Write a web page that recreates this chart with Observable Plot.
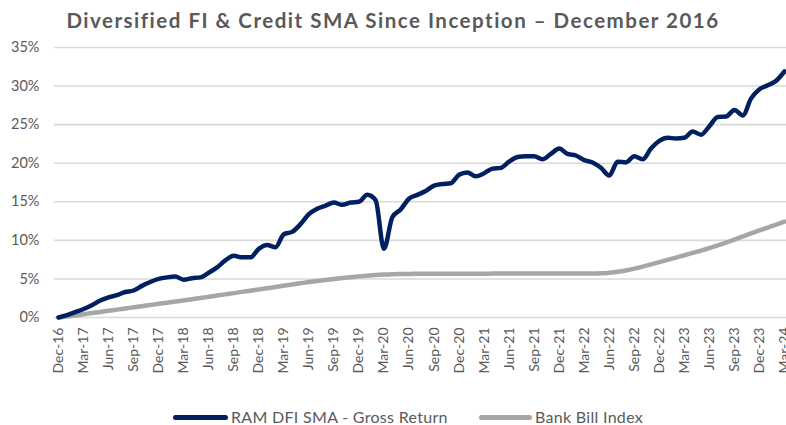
<!DOCTYPE html>
<html><head><meta charset="utf-8">
<script src="https://cdn.jsdelivr.net/npm/d3@7"></script>
<script src="https://cdn.jsdelivr.net/npm/@observablehq/plot@0.6"></script>
<style>
body{margin:0;background:#fff;font-family:Lato,sans-serif;color:#595959;width:786px;height:425px;overflow:hidden;position:relative}
#title{height:34px;line-height:40px;text-align:center;font-size:20.5px;font-weight:700;letter-spacing:1.5px;color:#595959;white-space:nowrap}
#chart svg{display:block}
.lg{position:absolute;top:408px;font-size:16px;line-height:17px;letter-spacing:0.3px;color:#595959;white-space:nowrap}
.sw{position:absolute;height:5px;border-radius:3px;top:415px}
</style></head><body>
<div id="title">Diversified FI &amp; Credit SMA Since Inception – December 2016</div>
<div id="chart"></div>
<div class="sw" style="left:173px;width:55px;background:#002060"></div>
<div class="lg" style="left:231px">RAM DFI SMA - Gross Return</div>
<div class="sw" style="left:479px;width:53px;background:#a6a6a6"></div>
<div class="lg" style="left:535px">Bank Bill Index</div>
<script>
const months = ["Dec-16",
"Jan-17","Feb-17","Mar-17","Apr-17","May-17","Jun-17","Jul-17","Aug-17","Sep-17","Oct-17","Nov-17","Dec-17",
"Jan-18","Feb-18","Mar-18","Apr-18","May-18","Jun-18","Jul-18","Aug-18","Sep-18","Oct-18","Nov-18","Dec-18",
"Jan-19","Feb-19","Mar-19","Apr-19","May-19","Jun-19","Jul-19","Aug-19","Sep-19","Oct-19","Nov-19","Dec-19",
"Jan-20","Feb-20","Mar-20","Apr-20","May-20","Jun-20","Jul-20","Aug-20","Sep-20","Oct-20","Nov-20","Dec-20",
"Jan-21","Feb-21","Mar-21","Apr-21","May-21","Jun-21","Jul-21","Aug-21","Sep-21","Oct-21","Nov-21","Dec-21",
"Jan-22","Feb-22","Mar-22","Apr-22","May-22","Jun-22","Jul-22","Aug-22","Sep-22","Oct-22","Nov-22","Dec-22",
"Jan-23","Feb-23","Mar-23","Apr-23","May-23","Jun-23","Jul-23","Aug-23","Sep-23","Oct-23","Nov-23","Dec-23",
"Jan-24","Feb-24","Mar-24"];
const xTicks = ["Dec-16","Mar-17","Jun-17","Sep-17","Dec-17","Mar-18","Jun-18","Sep-18","Dec-18","Mar-19","Jun-19","Sep-19","Dec-19","Mar-20","Jun-20","Sep-20","Dec-20","Mar-21","Jun-21","Sep-21","Dec-21","Mar-22","Jun-22","Sep-22","Dec-22","Mar-23","Jun-23","Sep-23","Dec-23","Mar-24"];
const yTicks = [0,5,10,15,20,25,30,35];
const ramSeries = "RAM DFI SMA - Gross Return";
const bbiSeries = "Bank Bill Index";
const ram = [0,0.3,0.7,1.1,1.6,2.2,2.6,2.9,3.3,3.5,
4.1,4.6,5.0,5.2,5.3,4.9,5.1,5.2,5.8,6.5,
7.4,8.0,7.8,7.8,8.9,9.4,9.1,10.8,11.1,12.1,
13.4,14.1,14.5,14.9,14.6,14.9,15.0,15.9,15.2,8.9,
13.0,14.0,15.4,15.9,16.4,17.1,17.3,17.4,18.5,18.8,
18.3,18.7,19.3,19.4,20.2,20.8,20.9,20.9,20.5,21.2,
21.9,21.2,21.0,20.4,20.1,19.4,18.4,20.2,20.1,20.9,
20.5,21.9,22.9,23.3,23.2,23.3,24.1,23.7,24.8,26.0,
26.05,26.9,26.2,28.4,29.6,30.1,30.7,31.9];
const bbi = [0,0.13,0.27,0.42,0.57,0.72,0.87,1.02,1.17,1.32,
1.47,1.62,1.77,1.92,2.07,2.22,2.37,2.52,2.68,2.84,
3.0,3.16,3.32,3.48,3.64,3.8,3.96,4.12,4.28,4.44,
4.6,4.74,4.87,5.0,5.12,5.23,5.33,5.42,5.5,5.57,
5.62,5.64,5.65,5.66,5.66,5.67,5.67,5.67,5.68,5.68,
5.68,5.68,5.69,5.69,5.69,5.69,5.69,5.7,5.7,5.7,
5.7,5.7,5.7,5.71,5.71,5.72,5.8,5.92,6.1,6.33,
6.6,6.88,7.17,7.47,7.77,8.07,8.37,8.68,9.0,9.35,
9.72,10.1,10.5,10.9,11.28,11.66,12.04,12.42];

const ramData = months.map((m,i)=>({month:m, value:ram[i], series:ramSeries}));
const bbiData = months.map((m,i)=>({month:m, value:bbi[i], series:bbiSeries}));

const chart = Plot.plot({
  width:786, height:376,
  marginTop:13, marginBottom:93, marginLeft:54, marginRight:0,
  style:{fontFamily:"Lato, sans-serif", color:"#595959", background:"#fff", overflow:"visible"},
  x:{type:"point", domain:months, padding:0, insetLeft:4, insetRight:2, label:null},
  y:{domain:[0,35], label:null},
  marks:[
    Plot.ruleY(yTicks, {stroke:"#d9d9d9", strokeWidth:1.6}),
    Plot.axisY(yTicks, {tickSize:0, tickPadding:15, fontSize:14.5, tickFormat:d=>d+"%", label:null}),
    Plot.axisX(xTicks, {tickSize:0, tickPadding:10, tickRotate:-90, fontSize:14, label:null}),
    Plot.line(bbiData, {x:"month", y:"value", stroke:"#a6a6a6", strokeWidth:4.5, curve:"monotone-x"}),
    Plot.line(ramData, {x:"month", y:"value", stroke:"#002060", strokeWidth:4.5, curve:"monotone-x"})
  ]
});
document.getElementById("chart").appendChild(chart);
</script>
</body></html>
